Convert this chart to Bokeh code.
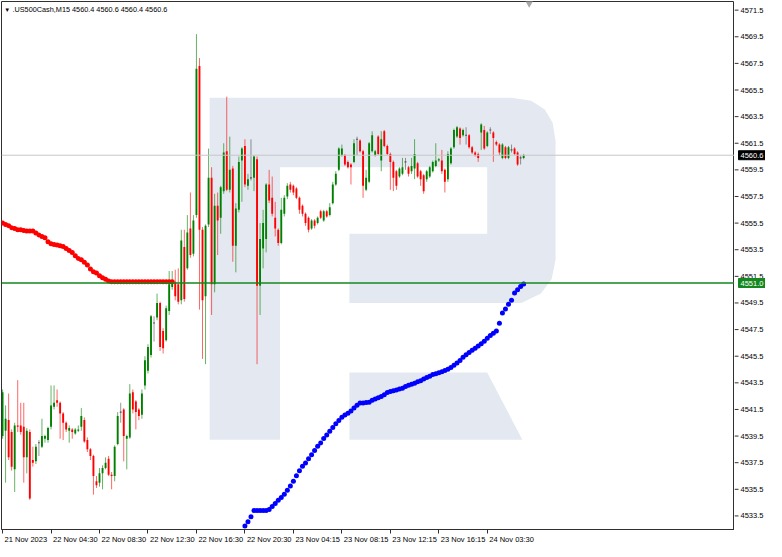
import numpy as np
from bokeh.plotting import figure
from bokeh.layouts import row
from bokeh.models import Range1d, FixedTicker, Label, Span, ColumnDataSource
from bokeh.core.properties import value
from bokeh.embed import file_html
from bokeh.resources import INLINE

# ---------------- data (US500Cash, M15) ----------------
opens = [4539.5,4539.9,4540.7,4539.8,4537.0,4540.3,4540.3,4540.2,4537.9,4539.8,
         4537.7,4537.6,4539.0,4538.7,4539.3,4539.2,4540.2,4541.7,4542.2,4542.0,
         4541.2,4540.5,4539.9,4540.0,4539.7,4539.9,4540.2,4540.7,4539.2,4538.5,
         4538.0,4536.1,4536.0,4536.7,4537.1,4537.8,4536.6,4536.5,4538.9,4541.3,
         4541.5,4539.3,4539.4,4542.8,4542.1,4541.5,4541.1,4543.3,4544.4,4545.6,
         4548.0,4548.4,4549.5,4547.4,4546.7,4548.9,4550.7,4551.1,4550.9,4549.7,
         4553.7,4552.1,4555.1,4553.2,4556.1,4567.3,4555.0,4550.0,4555.4,4558.9,
         4550.9,4556.8,4555.9,4557.9,4560.9,4558.0,4559.6,4553.8,4556.5,4560.2,
         4561.3,4558.3,4558.9,4558.9,4560.3,4550.8,4553.6,4554.3,4558.4,4557.4,
         4555.9,4555.0,4554.0,4556.2,4557.5,4558.4,4558.3,4558.1,4557.4,4556.8,
         4556.2,4555.9,4555.1,4555.7,4555.5,4556.4,4555.7,4556.4,4556.1,4557.0,
         4558.4,4559.5,4560.6,4560.6,4560.1,4559.9,4560.1,4561.8,4561.7,4560.9,
         4558.0,4558.6,4560.9,4560.6,4562.0,4560.2,4562.4,4561.3,4560.7,4560.1,
         4559.4,4559.0,4559.2,4560.1,4559.7,4559.4,4559.6,4560.0,4559.4,4559.1,
         4558.8,4559.0,4559.4,4559.8,4560.2,4560.2,4559.5,4558.8,4560.0,4561.2,
         4562.0,4562.6,4562.1,4562.1,4562.1,4561.2,4560.8,4560.7,4562.3,4562.5,
         4561.3,4562.5,4562.3,4561.6,4561.4,4560.4,4561.2,4560.4,4561.0,4561.1,
         4560.8,4560.4,4560.4]
highs = [4543.0,4541.8,4542.7,4540.0,4540.5,4543.7,4542.0,4542.0,4540.1,4540.0,
         4538.7,4538.9,4539.2,4540.8,4539.6,4540.2,4543.3,4543.3,4543.0,4542.1,
         4541.3,4540.6,4540.3,4540.1,4540.1,4540.3,4541.6,4540.9,4539.4,4538.6,
         4538.1,4536.5,4537.1,4537.3,4537.9,4538.0,4536.8,4538.8,4541.3,4542.0,
         4541.6,4539.6,4543.4,4543.0,4542.2,4541.6,4543.0,4545.5,4546.4,4548.6,
         4548.5,4550.2,4549.6,4547.6,4549.3,4551.9,4551.9,4552.0,4552.1,4555.0,
         4555.0,4556.1,4557.8,4556.1,4569.7,4567.9,4555.2,4555.4,4561.1,4559.7,
         4557.7,4557.8,4558.3,4561.5,4565.0,4562.0,4559.8,4557.0,4560.5,4561.2,
         4561.8,4559.2,4561.8,4560.6,4560.5,4555.5,4556.5,4558.5,4559.5,4559.0,
         4557.1,4555.1,4557.4,4557.6,4558.5,4558.6,4558.4,4558.2,4557.5,4556.9,
         4556.3,4556.0,4555.8,4555.8,4556.0,4556.5,4556.5,4556.5,4557.0,4558.6,
         4559.4,4561.2,4561.4,4560.7,4560.2,4560.0,4561.8,4562.0,4561.8,4561.0,
         4559.5,4561.6,4562.4,4561.0,4562.1,4562.4,4562.5,4561.4,4560.8,4560.2,
         4559.5,4559.7,4560.4,4560.4,4559.8,4560.4,4561.8,4560.1,4559.5,4559.2,
         4559.5,4559.8,4560.2,4561.5,4560.4,4561.0,4559.6,4560.9,4561.2,4562.6,
         4562.8,4562.7,4562.6,4562.7,4562.2,4561.3,4560.9,4560.8,4563.0,4562.8,
         4562.4,4562.7,4562.4,4561.7,4561.5,4561.5,4561.3,4561.3,4561.4,4561.2,
         4560.9,4560.6,4560.7]
lows = [4539.3,4536.0,4537.7,4536.9,4535.3,4539.8,4539.6,4536.0,4536.7,4534.7,
        4537.2,4537.4,4538.0,4538.6,4539.0,4539.0,4540.0,4541.5,4541.7,4539.3,
        4539.2,4539.8,4539.0,4539.3,4539.6,4539.8,4539.9,4539.0,4538.3,4537.7,
        4535.1,4535.6,4535.7,4535.5,4537.0,4536.5,4535.5,4536.1,4538.8,4540.5,
        4537.6,4537.0,4539.3,4541.2,4540.0,4540.7,4540.8,4543.0,4544.2,4545.4,
        4546.6,4548.2,4545.9,4545.7,4546.6,4548.6,4550.5,4549.7,4549.4,4549.4,
        4549.6,4552.0,4552.9,4553.0,4555.9,4549.0,4545.3,4544.9,4555.2,4548.6,
        4550.3,4553.1,4554.7,4557.7,4557.9,4557.8,4552.6,4551.8,4556.3,4557.1,
        4558.2,4558.0,4558.7,4557.9,4544.9,4548.6,4552.1,4553.3,4557.0,4556.0,
        4554.5,4553.8,4553.9,4556.0,4557.3,4557.8,4557.6,4557.3,4556.2,4556.0,
        4555.3,4554.8,4555.0,4555.1,4555.4,4555.8,4555.6,4555.9,4556.0,4556.9,
        4558.3,4559.4,4560.5,4559.8,4559.6,4558.4,4560.0,4560.6,4560.8,4557.4,
        4557.9,4558.5,4560.8,4560.5,4560.6,4559.4,4561.2,4560.6,4558.0,4557.9,
        4558.0,4558.9,4559.1,4559.5,4559.0,4559.2,4558.8,4558.9,4558.3,4557.7,
        4558.6,4558.9,4559.3,4559.7,4560.1,4559.2,4557.8,4558.6,4559.9,4561.1,
        4561.9,4561.4,4562.0,4561.4,4561.1,4560.7,4560.5,4560.1,4561.0,4561.0,
        4561.2,4562.2,4560.1,4561.3,4560.6,4560.3,4560.3,4560.3,4560.8,4560.6,
        4559.8,4559.9,4560.3]
closes = [4542.8,4540.8,4537.9,4537.2,4540.3,4540.2,4539.8,4537.9,4539.9,4534.8,
          4537.5,4538.7,4539.0,4539.5,4539.5,4540.1,4541.8,4542.0,4542.0,4541.2,
          4540.5,4540.0,4540.1,4539.8,4540.0,4540.0,4541.0,4539.1,4538.5,4538.0,
          4536.5,4535.8,4536.7,4537.1,4537.5,4536.6,4536.5,4538.7,4541.0,4541.3,
          4539.5,4539.5,4542.7,4541.5,4541.3,4541.0,4542.7,4545.2,4546.2,4548.5,
          4548.0,4549.5,4546.2,4546.1,4549.1,4550.9,4551.2,4550.0,4549.6,4554.2,
          4549.8,4554.8,4553.1,4555.7,4567.1,4555.0,4549.7,4555.3,4558.9,4550.9,
          4556.8,4555.7,4558.2,4560.8,4558.0,4559.5,4553.8,4556.6,4560.1,4561.1,
          4558.4,4558.8,4558.9,4560.5,4550.8,4554.3,4555.5,4558.4,4557.2,4556.2,
          4555.1,4554.0,4556.5,4557.4,4558.3,4558.0,4557.8,4557.4,4556.5,4556.2,
          4555.5,4555.0,4555.7,4555.3,4555.9,4555.9,4556.4,4556.0,4556.7,4558.4,
          4559.2,4561.1,4561.1,4559.9,4559.7,4559.7,4561.5,4561.8,4560.9,4558.3,
          4558.9,4561.5,4562.1,4560.9,4560.7,4561.8,4561.3,4560.7,4560.1,4558.9,
          4558.3,4559.6,4559.7,4560.1,4559.2,4559.8,4560.7,4559.0,4558.8,4557.9,
          4559.4,4559.7,4560.1,4560.2,4560.3,4559.4,4558.6,4560.7,4561.1,4562.5,
          4562.7,4561.9,4562.5,4562.1,4561.2,4560.8,4560.6,4560.4,4562.9,4561.1,
          4562.3,4562.5,4561.9,4561.4,4560.8,4561.4,4560.4,4561.2,4561.0,4560.7,
          4559.9,4560.4,4560.6]

# red dotted indicator (starts at bar 0)
red_dots = [4555.5,4555.4,4555.3,4555.15,4555.1,4555.0,4555.0,4554.95,4554.9,4554.9,
            4554.9,4554.75,4554.6,4554.5,4554.4,4554.1,4553.95,4553.9,4553.85,4553.8,
            4553.75,4553.6,4553.45,4553.3,4553.05,4552.85,4552.75,4552.55,4552.35,4552.05,
            4551.85,4551.75,4551.55,4551.4,4551.28,4551.15,4551.1,4551.1,4551.1,4551.1,
            4551.1,4551.1,4551.1,4551.1,4551.1,4551.1,4551.1,4551.1,4551.1,4551.1,
            4551.1,4551.1,4551.1,4551.1,4551.1,4551.1,4551.1]
# blue dotted indicator (starts at bar 80)
blue_start = 80
blue_dots = [4532.75,4533.07,4533.43,4533.91,4533.91,4533.91,4533.91,4533.91,4533.98,4534.20,
             4534.44,4534.68,4534.88,4535.12,4535.43,4535.75,4536.11,4536.52,4536.90,4537.24,
             4537.48,4537.80,4538.09,4538.42,4538.74,4538.98,4539.32,4539.58,4539.87,4540.14,
             4540.42,4540.67,4540.91,4541.08,4541.22,4541.39,4541.61,4541.82,4541.99,4541.99,
             4542.02,4542.04,4542.19,4542.28,4542.38,4542.48,4542.60,4542.77,4542.84,4542.91,
             4542.96,4543.03,4543.10,4543.22,4543.32,4543.39,4543.47,4543.58,4543.66,4543.78,
             4543.90,4544.00,4544.12,4544.19,4544.26,4544.33,4544.43,4544.52,4544.65,4544.82,
             4544.99,4545.18,4545.42,4545.61,4545.78,4545.95,4546.10,4546.26,4546.43,4546.62,
             4546.84,4547.06,4547.23,4547.40,4547.98,4548.75,4549.04,4549.40,4549.71,4550.24,
             4550.49,4550.73,4550.92]

price_ticks = [4533.5 + 2 * k for k in range(20)]
date_ticks = [0, 16, 32, 48, 64, 80, 96, 112, 128, 144, 160]
date_labels = ["21 Nov 2023", "22 Nov 04:30", "22 Nov 08:30", "22 Nov 12:30", "22 Nov 16:30",
               "22 Nov 20:30", "23 Nov 04:15", "23 Nov 08:15", "23 Nov 12:15", "23 Nov 16:15",
               "24 Nov 03:30"]
last_price = 4560.6
level_price = 4551.0
title_text = ".US500Cash,M15  4560.4 4560.6 4560.4 4560.6"

# ---------------- layout constants ----------------
X0, X1 = -0.35, 241.6
Y0, Y1 = 4532.48, 4572.15
FONT = "Liberation Sans"
FS = 7.5
FW, FH = 733, 528          # chart frame
AW = 31                    # price-scale panel width
PXB = FW / (X1 - X0)       # pixels per bar

def text_w(s, fs=FS):
    em = {" ": 0.278, ":": 0.278, ".": 0.278, ",": 0.278, "N": 0.722, "o": 0.556, "v": 0.5}
    return fs * sum(em.get(ch, 0.556) for ch in s)

p = figure(frame_width=FW, frame_height=FH, x_range=Range1d(X0, X1), y_range=Range1d(Y0, Y1),
           output_backend="svg", toolbar_location=None, y_axis_location=None,
           min_border_left=1, min_border_top=1, min_border_bottom=4, min_border_right=0)
p.grid.visible = False
p.outline_line_color = "#303030"
p.background_fill_color = "white"
p.border_fill_color = "white"

# x axis: minor ticks mark the bar times, labels sit to the right of each tick (MT style)
label_pos = [round(t + (2 + text_w(s) / 2) / PXB, 3) for t, s in zip(date_ticks, date_labels)]
xa = p.xaxis[0]
xa.ticker = FixedTicker(ticks=label_pos, minor_ticks=date_ticks)
xa.major_label_overrides = {lp: s for lp, s in zip(label_pos, date_labels)}
xa.major_label_text_font = FONT
xa.major_label_text_font_size = "%spx" % FS
xa.major_label_text_color = "#000000"
xa.major_label_standoff = 1
xa.axis_line_color = "#303030"
xa.major_tick_out = 0
xa.major_tick_in = 0
xa.minor_tick_out = 4
xa.minor_tick_in = 0
xa.minor_tick_line_color = "#303030"

# ---------------- watermark logo ----------------
def bx(px):
    return (px - 1.1) / 3.1

def by(py):
    return 4571.5 - (py - 9) / 13.816

logo_px = [
    [(213, 100), (285, 100), (285, 455), (213, 455)],
    [(285, 100), (522, 100), (542, 103), (556, 112), (564, 126), (567, 145),
     (567, 268), (563, 288), (552, 303), (532, 313), (356, 313), (356, 241),
     (497, 241), (497, 172), (285, 172)],
    [(356, 385), (497, 385), (533, 455), (356, 455)],
]
p.patches([[bx(a) for a, b in poly] for poly in logo_px],
          [[by(b) for a, b in poly] for poly in logo_px],
          fill_color="#e4e9f1", line_color=None)

p.add_layout(Span(location=last_price, dimension="width", line_color="#c6c6c6", line_width=1))

# ---------------- candles ----------------
o = np.array(opens); h = np.array(highs); l = np.array(lows); c = np.array(closes)
idx = np.arange(len(o))
col = np.where(c > o, "#008000", np.where(c < o, "#ff0000", "#505050"))
top = np.maximum(o, c)
bot = np.minimum(o, c)
small = (top - bot) < 0.08
mid = (top + bot) / 2
top = np.where(small, mid + 0.04, top)
bot = np.where(small, mid - 0.04, bot)

src = ColumnDataSource(dict(x=idx, o=o, h=h, l=l, c=c, top=top, bot=bot, col=col))
p.segment(x0="x", y0="h", x1="x", y1="l", source=src, line_color="col", line_width=1, line_alpha=0.6)
p.vbar(x="x", width=0.62, top="top", bottom="bot", source=src, fill_color="col", line_color=None)

# ---------------- indicator dots ----------------
p.scatter(np.arange(len(red_dots)), red_dots, size=5, color="#ff0000", line_color=None)
p.scatter(np.arange(len(blue_dots)) + blue_start, blue_dots, size=5, color="#0000ff", line_color=None)

p.add_layout(Span(location=level_price, dimension="width", line_color="#14871e", line_width=1.5))

# chart-shift marker
p.scatter([bx(540)], [Y1 - 0.12], marker="inverted_triangle", size=8, color="#a8a8a8", line_color=None)

# title
p.add_layout(Label(x=X0 + 0.9, y=Y1 - 0.62, text="\u25bc", text_font=FONT, text_font_size="6px",
                   text_color="#000000", text_baseline="middle", text_align="left"))
p.add_layout(Label(x=X0 + 3.6, y=Y1 - 0.62, text=title_text, text_font=FONT, text_font_size="7.3px",
                   text_color="#000000", text_baseline="middle", text_align="left"))

# ---------------- price scale panel (shares the price range) ----------------
s = figure(frame_width=AW, frame_height=FH, x_range=Range1d(0, AW), y_range=p.y_range,
           output_backend="svg", toolbar_location=None, x_axis_location=None, y_axis_location=None,
           min_border_left=0, min_border_top=1, min_border_bottom=4, min_border_right=0)
s.grid.visible = False
s.outline_line_color = None
s.background_fill_color = "white"
s.border_fill_color = "white"

s.segment(x0=[0] * len(price_ticks), y0=price_ticks, x1=[4] * len(price_ticks), y1=price_ticks,
          line_color="#303030", line_width=1)
s.text(x=[6] * len(price_ticks), y=price_ticks, text=["%.1f" % t for t in price_ticks],
       text_font=value(FONT), text_font_size=value("%spx" % FS), text_color="#000000",
       text_baseline="middle", text_align="left")

for val, bg in [(last_price, "#000000"), (level_price, "#14871e")]:
    s.add_layout(Label(x=4, y=val, text="%.1f" % val, text_font=FONT, text_font_size="%spx" % FS,
                       text_color="#ffffff", text_baseline="middle", text_align="left",
                       background_fill_color=bg, border_line_color=bg, padding=2))

layout = row(p, s, spacing=0)
open("out.html", "w").write(file_html(layout, INLINE))
